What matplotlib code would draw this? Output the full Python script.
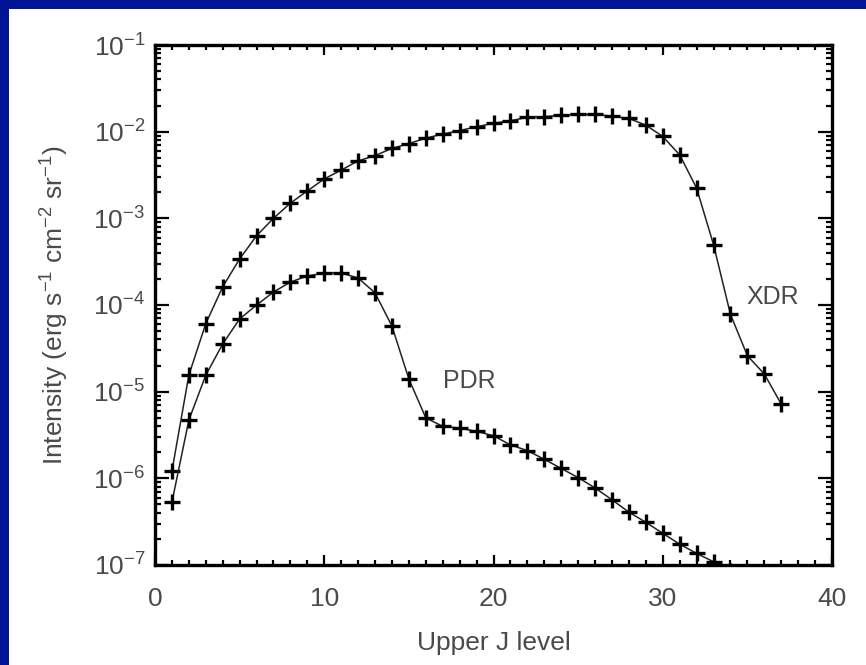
import matplotlib
matplotlib.use("Agg")
import matplotlib.pyplot as plt
import numpy as np
from matplotlib.patches import Rectangle
from matplotlib.ticker import LogLocator, MultipleLocator, FixedLocator

plt.rcParams['font.family'] = ['Liberation Sans', 'DejaVu Sans']
plt.rcParams['mathtext.default'] = 'regular'

# Upper J level
j_xdr = np.arange(1, 38)
j_pdr = np.arange(1, 35)

# Intensity (erg s-1 cm-2 sr-1)
xdr = [1.21e-6, 1.55e-5, 6.1e-5, 1.62e-4, 3.4e-4, 6.3e-4, 1.0e-3, 1.5e-3,
       2.07e-3, 2.85e-3, 3.6e-3, 4.6e-3, 5.3e-3, 6.4e-3, 7.3e-3, 8.4e-3,
       9.4e-3, 1.03e-2, 1.14e-2, 1.25e-2, 1.34e-2, 1.46e-2, 1.49e-2, 1.55e-2,
       1.58e-2, 1.58e-2, 1.51e-2, 1.42e-2, 1.19e-2, 8.8e-3, 5.4e-3, 2.23e-3,
       4.97e-4, 7.8e-5, 2.6e-5, 1.6e-5, 7.2e-6]
pdr = [5.3e-7, 4.7e-6, 1.55e-5, 3.55e-5, 6.9e-5, 1.0e-4, 1.41e-4, 1.84e-4,
       2.16e-4, 2.34e-4, 2.34e-4, 2.05e-4, 1.38e-4, 5.7e-5, 1.4e-5, 4.98e-6,
       3.98e-6, 3.8e-6, 3.48e-6, 3.1e-6, 2.43e-6, 2.09e-6, 1.66e-6, 1.30e-6,
       1.02e-6, 7.75e-7, 5.66e-7, 4.07e-7, 3.11e-7, 2.32e-7, 1.74e-7, 1.36e-7,
       1.09e-7, 8.5e-8]

ytick_vals = [1e-7, 1e-6, 1e-5, 1e-4, 1e-3, 1e-2, 1e-1]
ytick_labels = ['$10^{-7}$', '$10^{-6}$', '$10^{-5}$', '$10^{-4}$',
                '$10^{-3}$', '$10^{-2}$', '$10^{-1}$']
xtick_vals = [0, 10, 20, 30, 40]

gray = '#4a4a4a'

fig = plt.figure(figsize=(8.66, 6.65), dpi=100)
fig.patch.set_facecolor('white')
# blue frame of the slide (top and left strips)
fig.patches.append(Rectangle((0, 1 - 9 / 665), 1, 9 / 665, transform=fig.transFigure,
                             facecolor='#001496', edgecolor='none', zorder=0))
fig.patches.append(Rectangle((0, 0), 9 / 866, 1, transform=fig.transFigure,
                             facecolor='#001496', edgecolor='none', zorder=0))

ax = fig.add_axes([155 / 866, 100 / 665, 677 / 866, 520 / 665])

ax.plot(j_xdr, xdr, '-', color='#222222', lw=1.1, marker='+', ms=11,
        mew=2.4, mec='black', clip_on=True)
ax.plot(j_pdr, pdr, '-', color='#222222', lw=1.1, marker='+', ms=11,
        mew=2.4, mec='black', clip_on=True)

ax.set_yscale('log')
ax.set_xlim(0, 40)
ax.set_ylim(1e-7, 1e-1)

ax.xaxis.set_major_locator(FixedLocator(xtick_vals))
ax.xaxis.set_minor_locator(MultipleLocator(1))
ax.yaxis.set_major_locator(FixedLocator(ytick_vals))
ax.yaxis.set_minor_locator(LogLocator(base=10, subs=np.arange(2, 10), numticks=20))
ax.set_yticks(ytick_vals, ytick_labels)
ax.set_xticks(xtick_vals, [str(v) for v in xtick_vals])

ax.tick_params(which='both', direction='in', top=True, right=True,
               width=1.6, color='black', labelcolor=gray, labelsize=19)
ax.tick_params(axis='x', which='major', length=7, pad=16)
ax.tick_params(axis='x', which='minor', length=3.5)
ax.tick_params(axis='y', which='major', length=10, pad=7)
ax.tick_params(axis='y', which='minor', length=4.5)

for s in ax.spines.values():
    s.set_linewidth(2.4)
    s.set_color('black')

ax.set_xlabel('Upper J level', fontsize=19, color=gray, labelpad=14)
ax.set_ylabel('Intensity (erg s$^{-1}$ cm$^{-2}$ sr$^{-1}$)', fontsize=19,
              color=gray, labelpad=16)

ax.text(36.5, 1.24e-4, 'XDR', fontsize=18, color=gray, ha='center', va='center')
ax.text(18.6, 1.33e-5, 'PDR', fontsize=18, color=gray, ha='center', va='center')

fig.savefig('out.png', dpi=100)
